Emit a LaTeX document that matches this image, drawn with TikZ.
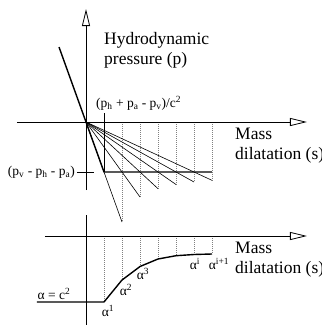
\documentclass[tikz,border=0pt]{standalone}
\usepackage{fontspec}
\setmainfont{Liberation Serif}
\usetikzlibrary{arrows.meta}
\begin{document}
\begin{tikzpicture}[x=1pt,y=-1pt,
  axisline/.style={line width=0.8pt},
  axisarrow/.style={line width=0.8pt,-{Triangle[open,length=17pt,width=8pt,line width=0.8pt]}},
  heavy/.style={line width=1.4pt,line join=round},
  fanline/.style={line width=0.6pt},
  dashv/.style={draw=gray,line width=0.7pt,dash pattern=on 1pt off 1pt},
  bigtext/.style={font=\fontsize{17.5}{20}\selectfont,inner sep=0pt},
  smalltext/.style={font=\fontsize{13.5}{15}\selectfont,inner sep=0pt}
]
\useasboundingbox (0,0) rectangle (322,325);
% ---------- top chart ----------
\coordinate (O) at (86,122);
\coordinate (Ptop) at (86,9);
\coordinate (Pbot) at (86,190);
\coordinate (Hl) at (17,122);
\coordinate (Hr) at (307,122);
\foreach \k in {1,...,6}{
  \pgfmathsetmacro\xx{86+18*(\k+1)}
  \pgfmathsetmacro\yy{122+50*(\k+1)/\k}
  \coordinate (F\k) at (\xx,\yy);
  \coordinate (A\k) at (\xx,122);
  \draw[dashv] (A\k) -- (F\k);
  \draw[fanline] (O) -- (F\k);
}
\draw[axisarrow] (Pbot) -- (Ptop);
\draw[axisarrow] (Hl) -- (Hr);
\coordinate (S0) at (59,47);
\coordinate (S1) at (104,172);
\coordinate (S7) at (212,172);
\coordinate (T0) at (104,113);
\draw[fanline] (T0) -- (S1);
\draw[heavy] (S0) -- (S1) -- (S7);
\coordinate (K0) at (77,172);
\coordinate (K1) at (94,172);
\draw[axisline] (K0) -- (K1);
\node[bigtext,anchor=base west] (hy) at (104,44) {Hydrodynamic};
\node[bigtext,anchor=base west] (pr) at (104,64) {pressure (p)};
\node[bigtext,anchor=base west] (m1) at (235,139) {Mass};
\node[bigtext,anchor=base west] (d1) at (235,159) {dilatation (s)};
\node[smalltext,anchor=west] (lab1) at (96,103) {(p\textsubscript{h} + p\textsubscript{a} - p\textsubscript{v})/c\textsuperscript{2}};
\node[smalltext,anchor=east] (lab2) at (75,172) {(p\textsubscript{v} - p\textsubscript{h} - p\textsubscript{a})};
% ---------- bottom chart ----------
\coordinate (Qtop) at (86,215);
\coordinate (Qbot) at (86,325);
\coordinate (Gl) at (45,236);
\coordinate (Gr) at (307,236);
\coordinate (C0) at (37,302);
\coordinate (C1) at (104,302);
\coordinate (C2) at (122,280);
\coordinate (C3) at (140,266.5);
\coordinate (C4) at (158,259);
\coordinate (C5) at (176,255.7);
\coordinate (C6) at (194,254.5);
\coordinate (C7) at (212,254);
\foreach \k/\xx in {1/104,2/122,3/140,4/158,5/176,6/194,7/212}{
  \coordinate (B\k) at (\xx,236);
  \draw[dashv] (B\k) -- (C\k);
}
\draw[axisline] (Qtop) -- (Qbot);
\draw[axisarrow] (Gl) -- (Gr);
\draw[heavy] (C0) -- (C1) -- (C2) -- (C3) -- (C4) -- (C5) -- (C6) -- (C7);
\node[bigtext,anchor=base west] (m2) at (235,253) {Mass};
\node[bigtext,anchor=base west] (d2) at (235,273) {dilatation (s)};
\node[smalltext] (ac) at (54,294) {α = c\textsuperscript{2}};
\node[smalltext] (a1) at (108,311) {α\textsuperscript{1}};
\node[smalltext] (a2) at (126,290) {α\textsuperscript{2}};
\node[smalltext] (a3) at (143,274) {α\textsuperscript{3}};
\node[smalltext] (ai) at (195,264) {α\textsuperscript{i}};
\node[smalltext] (ai1) at (219,264) {α\textsuperscript{i+1}};
\end{tikzpicture}
\end{document}
